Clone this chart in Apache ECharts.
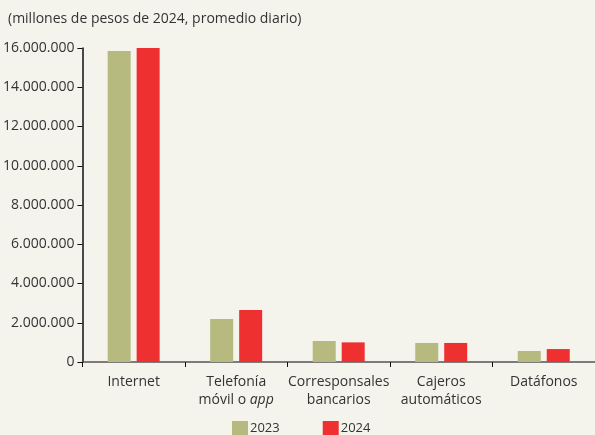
<!DOCTYPE html>
<html>
<head>
<meta charset="utf-8">
<script src="https://cdn.jsdelivr.net/npm/echarts@6/dist/echarts.min.js"></script>
<style>
  html, body { margin: 0; padding: 0; background: #f4f3ec; }
  #main { width: 595px; height: 435px; }
</style>
</head>
<body>
<div id="main"></div>
<script>
// datos (millones de pesos de 2024, promedio diario)
var categorias = ['Internet', 'Telefonía\nmóvil o {i|app}', 'Corresponsales\nbancarios', 'Cajeros\nautomáticos', 'Datáfonos'];
var valores2023 = [15850000, 2190000, 1070000, 970000, 560000];
var valores2024 = [16020000, 2650000, 1000000, 970000, 660000];
var series = ['2023', '2024'];

var fuente = 'Open Sans';

function miles(v) {
    return String(v).replace(/\B(?=(\d{3})+(?!\d))/g, '.');
}

var myChart = echarts.init(document.getElementById('main'));

var option = {
    backgroundColor: '#f4f3ec',
    animation: false,
    textStyle: { fontFamily: fuente },
    title: {
        text: '(millones de pesos de 2024, promedio diario)',
        left: 3,
        top: 7,
        textStyle: { fontFamily: fuente, fontSize: 14, fontWeight: 'normal', color: '#333' }
    },
    legend: {
        data: series,
        top: 421,
        left: 232,
        padding: 0,
        itemWidth: 16,
        itemHeight: 14,
        itemGap: 43,
        icon: 'rect',
        textStyle: { fontFamily: fuente, fontSize: 13, color: '#333', padding: [0, 0, 0, -3] }
    },
    grid: { left: 82, right: 0, top: 48, bottom: 73 },
    xAxis: {
        type: 'category',
        data: categorias,
        axisLine: { lineStyle: { color: '#555', width: 1.5 } },
        axisTick: { show: true, length: 5, lineStyle: { color: '#111' } },
        axisLabel: {
            fontFamily: fuente,
            fontSize: 14,
            color: '#333',
            margin: 11,
            lineHeight: 18,
            interval: 0,
            rich: { i: { fontStyle: 'italic', fontFamily: fuente, fontSize: 14, color: '#333' } }
        }
    },
    yAxis: {
        type: 'value',
        min: 0,
        max: 16000000,
        interval: 2000000,
        splitLine: { show: false },
        axisLine: { show: true, lineStyle: { color: '#111', width: 1.5 } },
        axisTick: { show: true, length: 5, lineStyle: { color: '#111' } },
        axisLabel: {
            fontFamily: fuente,
            fontSize: 14,
            color: '#333',
            margin: 8,
            formatter: miles
        }
    },
    series: [
        {
            name: series[0],
            type: 'bar',
            data: valores2023,
            barWidth: 23,
            barGap: '26%',
            itemStyle: { color: '#b6ba7f' }
        },
        {
            name: series[1],
            type: 'bar',
            data: valores2024,
            barWidth: 23,
            itemStyle: { color: '#ee3130' }
        }
    ]
};

myChart.setOption(option);
</script>
</body>
</html>
